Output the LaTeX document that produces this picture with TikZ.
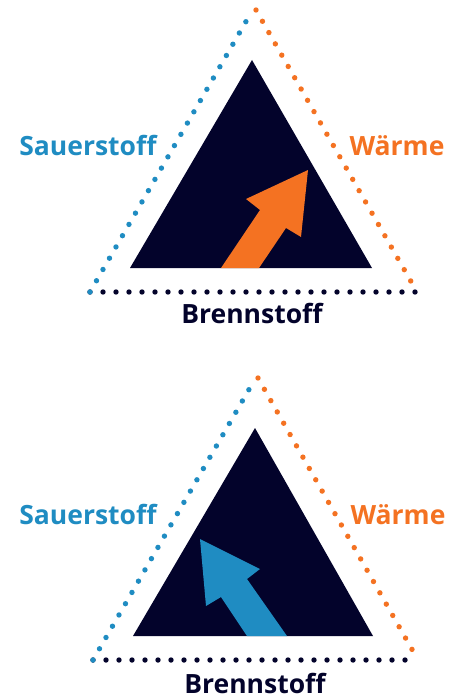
\documentclass[tikz,border=0pt]{standalone}
\usepackage{fontspec}
\setmainfont{Open Sans}
\usetikzlibrary{positioning}
\definecolor{navy}{HTML}{03032B}
\definecolor{oxyblue}{HTML}{1F8CC2}
\definecolor{heatorange}{HTML}{F47222}

\begin{document}
\begin{tikzpicture}[
  x=1pt, y=-1pt,
  dotline/.style={line width=5.4pt, line cap=round, dash pattern=on 0pt off 13pt},
  fuelbox/.style={fill=navy},
  label/.style={font=\bfseries\fontsize{26.5}{30}\selectfont, anchor=base, inner sep=0pt},
  arrowshape/.style={draw=none}
]
\useasboundingbox (0,0) rectangle (462,698);

% Upper triangle
\fill[fuelbox] (252,60) -- (372,268) -- (130,268) -- cycle;
\fill[arrowshape, heatorange] (221,268) -- (260,210) -- (246,199) -- (308,170)
  -- (301,237) -- (286,228) -- (259,268) -- cycle;

\coordinate (tl) at (90,292);
\coordinate (tr) at (417,292);
\coordinate (tob) at (248,18);
\coordinate (toa) at (256,10);
\draw[dotline, navy] (tl) -- (tr);
\draw[dotline, oxyblue] (tl) -- (tob);
\draw[dotline, heatorange] (toa) -- (tr);

\node[label, oxyblue] (sauer1) at (88,155) {Sauerstoff};
\node[label, heatorange] (waerme1) at (397,155) {Wärme};
\node[label, navy] (brenn1) at (252,323) {Brennstoff};

% Lower triangle
\fill[fuelbox] (255,428) -- (373,636) -- (133,636) -- cycle;
\fill[arrowshape, oxyblue] (247,636) -- (221,597) -- (206,606) -- (200,539)
  -- (260,569) -- (247,579) -- (287,636) -- cycle;

\coordinate (bl) at (93,660);
\coordinate (br) at (418,660);
\coordinate (bob) at (251,386);
\coordinate (boa) at (258,378);
\draw[dotline, navy] (bl) -- (br);
\draw[dotline, oxyblue] (bl) -- (bob);
\draw[dotline, heatorange] (boa) -- (br);

\node[label, oxyblue] (sauer2) at (88,524) {Sauerstoff};
\node[label, heatorange] (waerme2) at (398,524) {Wärme};
\node[label, navy] (brenn2) at (255,693) {Brennstoff};

\end{tikzpicture}
\end{document}
